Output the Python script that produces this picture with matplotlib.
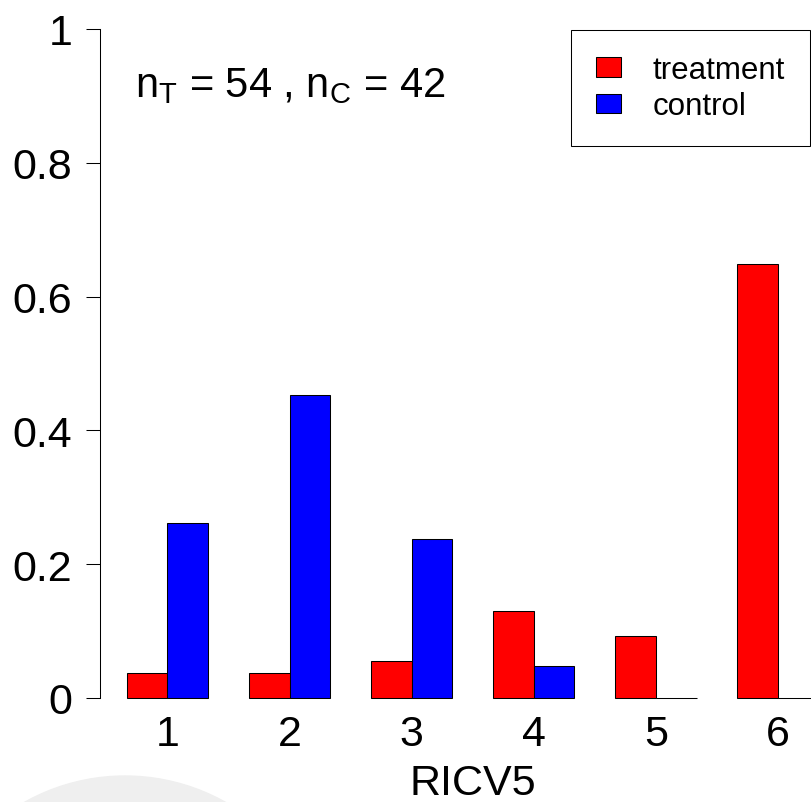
import matplotlib
matplotlib.use('Agg')
import matplotlib.pyplot as plt
import numpy as np
from matplotlib.patches import Patch, Ellipse

plt.rcParams['font.family'] = ['Liberation Sans', 'DejaVu Sans']
plt.rcParams['mathtext.fontset'] = 'custom'
plt.rcParams['mathtext.rm'] = 'Liberation Sans'
plt.rcParams['mathtext.it'] = 'Liberation Sans'

# data: proportions of each RICV5 level
categories = ['1', '2', '3', '4', '5', '6']
treatment = [2/54, 2/54, 3/54, 7/54, 5/54, 35/54]
control = [11/42, 19/42, 10/42, 2/42, 0, 0]
n_treat, n_ctrl = 54, 42
ytick_vals = [0, 0.2, 0.4, 0.6, 0.8, 1]
ytick_labels = ['0', '0.2', '0.4', '0.6', '0.8', '1']

W, H = 811, 803
fig = plt.figure(figsize=(W / 100, H / 100), dpi=100)

# faint grey watermark shape at bottom left
fig.patches.append(Ellipse((125 / W, (H - 982) / H), 2 * 205 / W, 2 * 205 / H,
                           transform=fig.transFigure, color='#efefef', zorder=0))

ax = fig.add_axes([100 / W, 104 / H, 711 / W, 699 / H])
ax.set_facecolor('none')

# R barplot style layout: bar width 1, one-unit gap between groups
idx = np.arange(len(categories))
left_t = 3 * idx + 1
left_c = 3 * idx + 2
ax.bar(left_t, treatment, width=1, align='edge', color='#ff0000',
       edgecolor='black', linewidth=0.75, clip_on=False)
ax.bar(left_c, control, width=1, align='edge', color='#0000ff',
       edgecolor='black', linewidth=0.75, clip_on=False)

ax.set_xlim(0.344, 17.81)
ax.set_ylim(0, 1 + 30 / 669)

for s in ['top', 'right', 'bottom']:
    ax.spines[s].set_visible(False)
ax.spines['left'].set_bounds(0, 1)
ax.spines['left'].set_linewidth(0.75)

ax.set_yticks(ytick_vals)
ax.set_yticklabels(ytick_labels)
ax.tick_params(axis='y', direction='out', length=10, width=0.75, pad=10,
               labelsize=31)
ax.set_xticks(left_t + 1)
ax.set_xticklabels(categories)
ax.tick_params(axis='x', length=0, pad=11.5, labelsize=31)

ax.set_xlabel('RICV5', fontsize=31, va='baseline')
ax.xaxis.set_label_coords((9.5 - 0.344) / 17.466, (8 - 104) / 699)

fig.text(135 / W, 1 - 97 / H,
         r'$\mathregular{n_T}$ = %d , $\mathregular{n_C}$ = %d' % (n_treat, n_ctrl),
         fontsize=30, va='baseline', ha='left')

handles = [Patch(facecolor='#ff0000', edgecolor='black', linewidth=0.75),
           Patch(facecolor='#0000ff', edgecolor='black', linewidth=0.75)]
leg = fig.legend(handles, ['treatment', 'control'], loc='upper right',
                 bbox_to_anchor=(810 / W, 1 - 31 / H), borderaxespad=0,
                 fontsize=22.5, handlelength=0.8, handleheight=0.57,
                 handletextpad=1.0, labelspacing=0.2, borderpad=0.8,
                 fancybox=False, framealpha=1, edgecolor='black')
leg.get_frame().set_linewidth(0.75)

fig.savefig('out.png', dpi=100)
